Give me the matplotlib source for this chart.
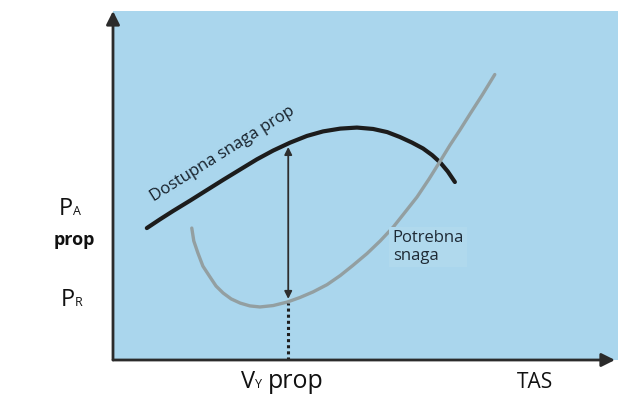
import numpy as np
import matplotlib
matplotlib.use('Agg')
import matplotlib.pyplot as plt

plt.rcParams['font.family'] = ['Open Sans', 'DejaVu Sans']

# dostupna snaga (available power), arbitrary units 0..100
avail_x = [6.7, 9.3, 11.9, 15.3, 18.6, 21.8, 25.2, 28.5, 31.7, 35.1, 38.4, 41.6,
           45.0, 48.3, 51.5, 54.3, 56.8, 59.2, 61.4, 63.2, 64.8, 66.3, 67.7]
avail_y = [37.8, 40.3, 42.7, 45.7, 48.7, 51.6, 54.6, 57.5, 60.0, 62.3, 64.2, 65.5,
           66.3, 66.6, 66.2, 65.3, 63.9, 62.3, 60.6, 58.7, 56.6, 54.0, 51.0]

# potrebna snaga (required power)
req_x = [15.6, 16.0, 16.8, 17.8, 19.2, 20.4, 21.8, 23.4, 25.2, 27.1, 29.1, 31.7,
         34.5, 37.0, 39.6, 42.4, 45.0, 47.5, 50.3, 52.9, 55.5, 57.8, 60.2, 62.6,
         64.8, 66.7, 68.7, 70.7, 73.1, 75.6]
req_y = [37.8, 34.1, 30.7, 26.9, 23.8, 21.2, 19.2, 17.5, 16.3, 15.5, 15.2, 15.6,
         16.6, 17.9, 19.5, 21.6, 24.2, 27.1, 30.5, 34.1, 38.1, 42.3, 46.7, 51.9,
         57.0, 61.5, 65.9, 70.5, 75.9, 81.8]

vy = 34.7  # Vy prop

W, H = 618, 399
fig = plt.figure(figsize=(W / 100, H / 100), dpi=100)
ax = fig.add_axes([113 / W, 39 / H, 505 / W, 349 / H])
ax.set_facecolor('#aad6ed')
ax.set_xlim(0, 100)
ax.set_ylim(0, 100)
for s in ax.spines.values():
    s.set_visible(False)
ax.set_xticks([])
ax.set_yticks([])

ax.plot(avail_x, avail_y, color='#1c1c1c', lw=3, solid_capstyle='round', solid_joinstyle='round')
ax.plot(req_x, req_y, color='#939fa1', lw=2.4, solid_capstyle='round', solid_joinstyle='round')

pa_vy = np.interp(vy, avail_x, avail_y)
pr_vy = np.interp(vy, req_x, req_y)
ax.annotate('', xy=(vy, pa_vy - 1), xytext=(vy, pr_vy + 0.8),
            arrowprops=dict(arrowstyle='<|-|>', color='#2e2e2e', lw=1.3,
                            mutation_scale=11, shrinkA=0, shrinkB=0))
ax.plot([vy, vy], [0, pr_vy - 0.5], color='#1e1e1e', lw=2.2, ls=(0, (1.0, 1.0)))

# axes with arrows
arr = dict(arrowstyle='-|>', color='#2b2b2b', lw=2, mutation_scale=20, shrinkA=0, shrinkB=0)
ax.annotate('', xy=(0, 1), xytext=(0, 0), xycoords='axes fraction', arrowprops=arr,
            annotation_clip=False)
ax.annotate('', xy=(0.994, 0), xytext=(0, 0), xycoords='axes fraction', arrowprops=arr,
            annotation_clip=False)

ax.text(21.6, 59.0, 'Dostupna snaga prop', rotation=32, rotation_mode='anchor',
        ha='center', va='center', fontsize=12, color='#16202a')
ax.text(55.4, 32.4, 'Potrebna\nsnaga', ha='left', va='center', fontsize=12,
        color='#1e2a35', linespacing=1.1,
        bbox=dict(boxstyle='square,pad=0.2', fc='#b0d9ed', ec='none'))


def ftext(x, y, s, **kw):
    fig.text(x / W, 1 - y / H, s, **kw)


ftext(59, 215, 'P', fontsize=17, va='baseline', ha='left', color='#111')
ftext(73, 215, 'A', fontsize=9, va='baseline', ha='left', color='#111')
ftext(74, 245, 'prop', fontsize=13, fontweight='bold', va='baseline', ha='center', color='#111')
ftext(61, 306, 'P', fontsize=17, va='baseline', ha='left', color='#111')
ftext(75, 306, 'R', fontsize=9, va='baseline', ha='left', color='#111')

ftext(241, 388, 'V', fontsize=17, va='baseline', ha='left', color='#111')
ftext(255, 388, 'Y', fontsize=9, va='baseline', ha='left', color='#111')
ftext(268, 388, 'prop', fontsize=18, va='baseline', ha='left', color='#111')
ftext(535, 388, 'TAS', fontsize=15, va='baseline', ha='center', color='#111')

fig.savefig('out.png', dpi=100, facecolor='white')
